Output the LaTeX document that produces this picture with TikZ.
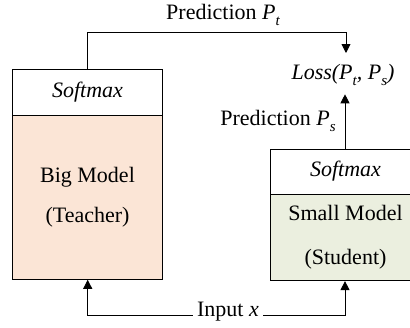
\documentclass[tikz,border=0pt]{standalone}
\usepackage{fontspec}
\setmainfont{Liberation Serif}
\usetikzlibrary{arrows.meta}
\definecolor{peach}{HTML}{FBE5D6}
\definecolor{sage}{HTML}{EBEFDF}
\newcommand{\Pv}[1]{\textit{P}\raisebox{-0.28em}{\fontsize{15}{15}\selectfont\itshape #1}}
\begin{document}
\begin{tikzpicture}[x=1pt,y=-1pt,
  font=\fontsize{22}{26}\selectfont,
  box/.style={draw,line width=0.9pt,minimum width=149.6pt,inner sep=0pt,anchor=center},
  conn/.style={line width=0.9pt},
  arr/.style={conn,-{Triangle[width=9pt,length=9pt]}},
  lbl/.style={inner sep=1pt}]
\useasboundingbox (0,0) rectangle (410,327);
\begin{scope}
\clip (0,0) rectangle (410,327);
\node[box,minimum height=46pt,font=\fontsize{22}{26}\selectfont\itshape] (bigsoft) at (87.5,92) {Softmax};
\node[box,fill=peach,minimum height=164.3pt,align=center,font=\fontsize{22}{40}\selectfont] (bigbody) at (87.5,197.2) {Big Model\\(Teacher)};
\node[box,minimum height=45pt,font=\fontsize{22}{26}\selectfont\itshape] (smallsoft) at (345.5,171.5) {Softmax};
\node[box,fill=sage,minimum height=86.7pt,align=center,font=\fontsize{22}{44}\selectfont] (smallbody) at (345.5,237.3) {Small Model\\(Student)};
\end{scope}
\node[lbl] (loss) at (343,75) {\itshape Loss(\Pv{t}, \Pv{s})};
\node[lbl] (pt) at (223,15) {Prediction \Pv{t}};
\node[lbl] (ps) at (278,121) {Prediction \Pv{s}};
\node[lbl,inner xsep=4pt] (inp) at (228,312) {Input \textit{x}};
\coordinate (tl) at (87.7,32.3);
\coordinate (tr) at (346,32.3);
\coordinate (lt) at (346,53);
\coordinate (bl) at (87.7,315);
\coordinate (br) at (345,315);
\draw[conn] (bigsoft.north -| tl) -- (tl) -- (tr);
\draw[arr] (tr) -- (lt);
\draw[arr] (smallsoft.north -| br) -- (345,94.3);
\draw[arr] (inp.west |- bl) -- (bl) -- (bigbody.south -| bl);
\draw[arr] (inp.east |- br) -- (br) -- (smallbody.south -| br);
\end{tikzpicture}
\end{document}
